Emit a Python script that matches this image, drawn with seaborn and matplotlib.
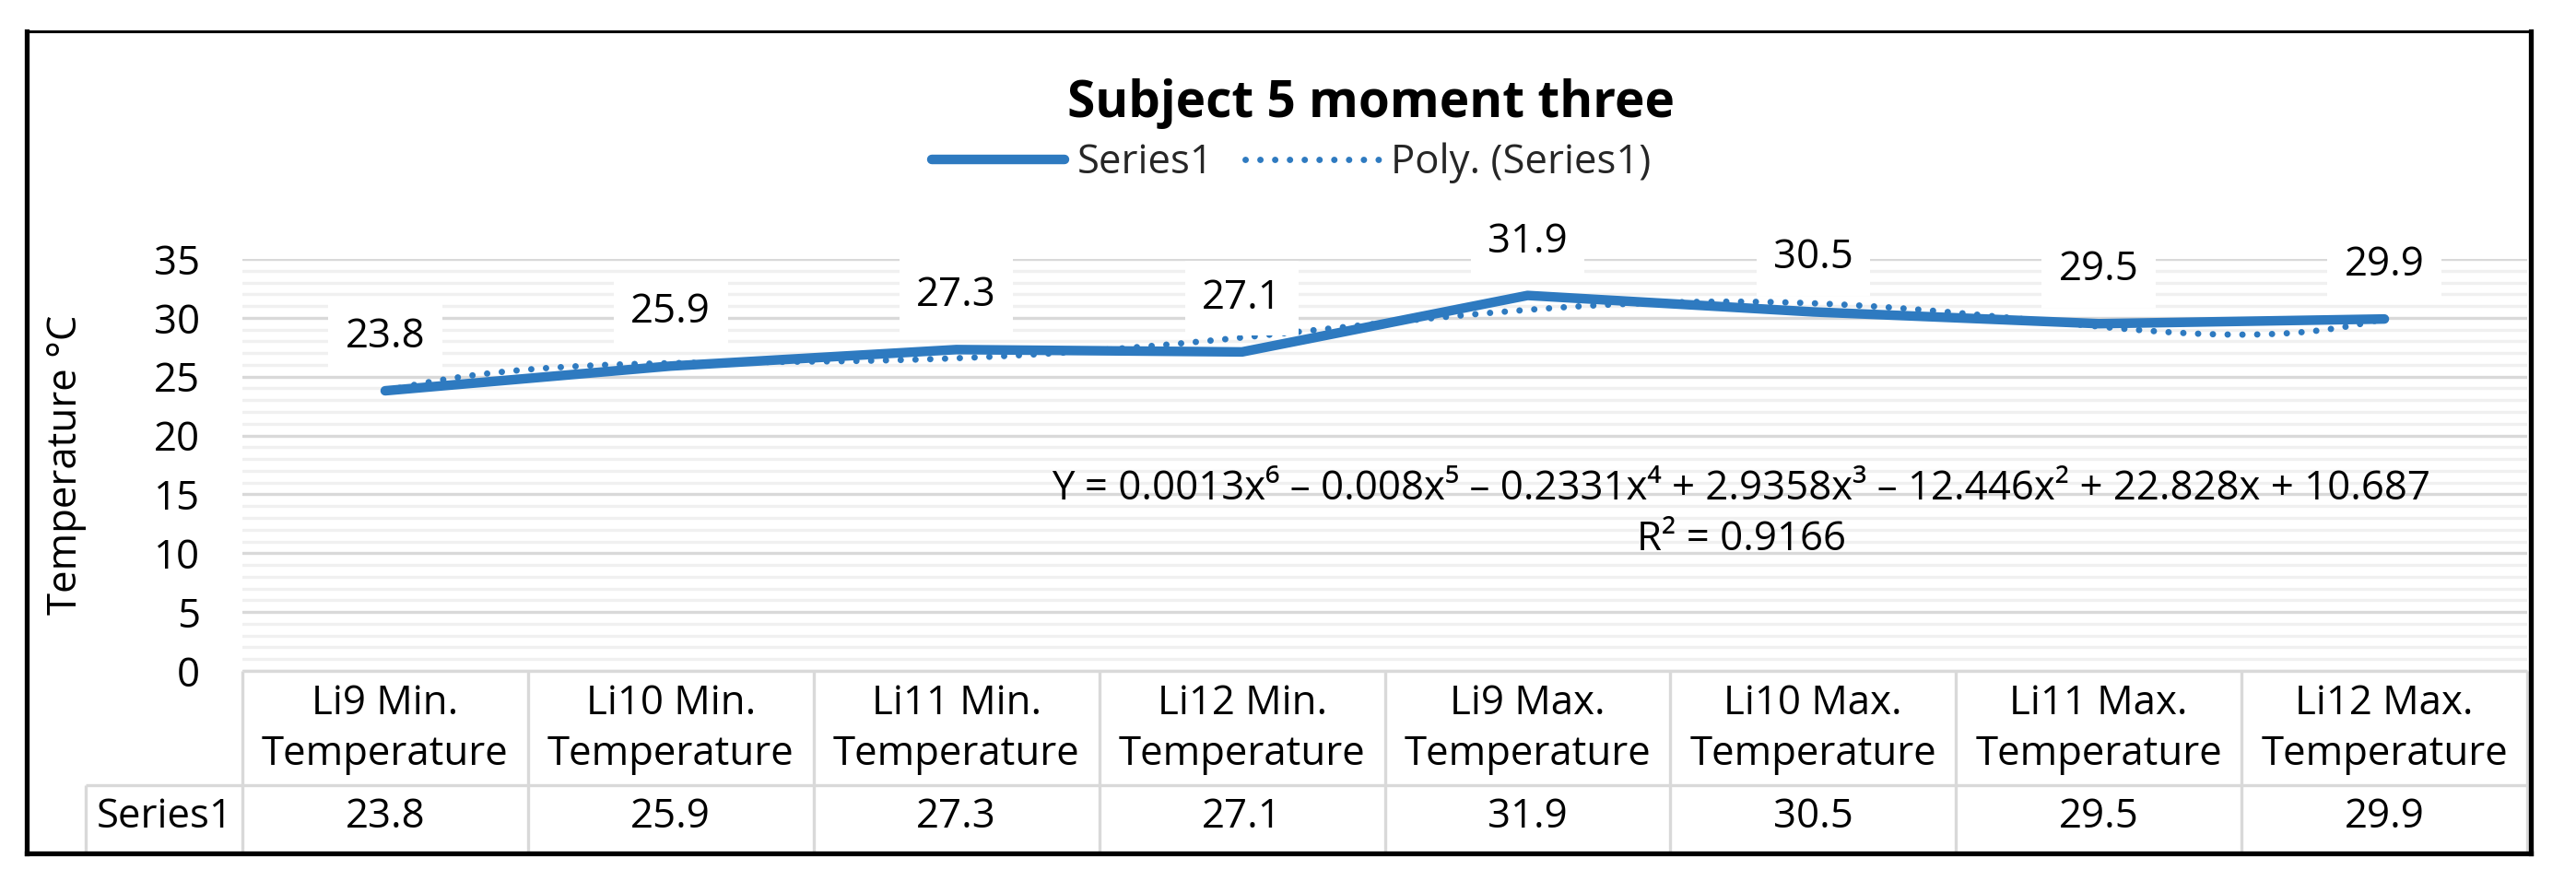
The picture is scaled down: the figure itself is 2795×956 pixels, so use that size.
import numpy as np
import pandas as pd
import matplotlib
matplotlib.use("Agg")
import matplotlib.pyplot as plt
import matplotlib.transforms as mtransforms
from matplotlib.lines import Line2D
from matplotlib.ticker import MultipleLocator
import seaborn as sns

# ---------------- data ----------------
categories = ["Li9 Min.\nTemperature", "Li10 Min.\nTemperature", "Li11 Min.\nTemperature",
              "Li12 Min.\nTemperature", "Li9 Max.\nTemperature", "Li10 Max.\nTemperature",
              "Li11 Max.\nTemperature", "Li12 Max.\nTemperature"]
series1 = [23.8, 25.9, 27.3, 27.1, 31.9, 30.5, 29.5, 29.9]
series_name = "Series1"
trend_name = "Poly. (Series1)"
title = "Subject 5 moment three"
ylabel = "Temperature °C"
equation = ("Y = 0.0013x⁶ – 0.008x⁵ – 0.2331x⁴ + 2.9358x³ – 12.446x² + 22.828x + 10.687\n"
            "R² = 0.9166")

# ---------------- style ----------------
sns.set_theme(style="white")
FONT = ["Open Sans", "DejaVu Sans"]
plt.rcParams["font.family"] = FONT
FS = 31.5
BLUE = "#2E7AC0"
GRID_MAJOR = "#D9D9D9"
GRID_MINOR = "#F0F0F0"
DOTS = (0, (0.01, 2.3))

W, H = 2795, 956
fig = plt.figure(figsize=(W / 100, H / 100), dpi=100)
fig.patch.set_facecolor("white")

L, R, T, B = 263, 2742, 281, 728
ax = fig.add_axes([L / W, 1 - B / H, (R - L) / W, (B - T) / H])

x = np.arange(len(series1))
df = pd.DataFrame({"pos": x, "value": series1})

sns.lineplot(data=df, x="pos", y="value", ax=ax, color=BLUE, linewidth=7.5,
             solid_capstyle="round", solid_joinstyle="round", zorder=3, label=series_name)

# polynomial (order 6) trendline, fit as Excel does (x = 1..n)
coef = np.polyfit(x + 1, series1, 6)
xf = np.linspace(1, len(series1), 400)
tr = pd.DataFrame({"pos": xf - 1, "value": np.polyval(coef, xf)})
sns.lineplot(data=tr, x="pos", y="value", ax=ax, color=BLUE, linewidth=5,
             linestyle=DOTS, dash_capstyle="round", zorder=4, label=trend_name)

ax.set_xlim(-0.5, len(series1) - 0.5)
ax.set_ylim(0, 35)
ax.yaxis.set_major_locator(MultipleLocator(5))
ax.yaxis.set_minor_locator(MultipleLocator(1))
ax.grid(which="major", axis="y", color=GRID_MAJOR, linewidth=2.4, zorder=0)
ax.grid(which="minor", axis="y", color=GRID_MINOR, linewidth=2.4, zorder=0)
ax.grid(False, axis="x")
ax.set_axisbelow(True)
for s in ax.spines.values():
    s.set_visible(False)
ax.set_xticks([])
ax.set_xlabel("")
ax.tick_params(axis="y", which="both", length=0, pad=33, labelsize=FS, labelcolor="black")
ax.set_ylabel(ylabel, fontsize=FS, color="black")
ax.yaxis.set_label_coords(-0.068, 0.5)
ax.get_legend().remove()

# data labels
for xi, v in zip(x, series1):
    ax.annotate(f"{v}", (xi, v), xytext=(0, 42), textcoords="offset points",
                ha="center", va="center", fontsize=FS, color="black", zorder=5,
                bbox=dict(boxstyle="square,pad=0.42", fc="white", ec="none"))

# trendline equation
ax.text(1889 / W, 1 - 558 / H, equation, transform=fig.transFigure, ha="center", va="center",
        fontsize=FS, color="black", linespacing=1.3, zorder=5, family=FONT,
        multialignment="center")

# title and legend
fig.text(1487 / W, 1 - 112 / H, title, ha="center", va="center", fontsize=39.5,
         fontweight="bold", color="black")
handles = [Line2D([], [], color=BLUE, lw=7.5, solid_capstyle="round"),
           Line2D([], [], color=BLUE, lw=5, linestyle=DOTS, dash_capstyle="round")]
fig.legend(handles, [series_name, trend_name], loc="center", bbox_to_anchor=(1401 / W, 1 - 177 / H),
           ncol=2, frameon=False, fontsize=FS, handlelength=3.3, handletextpad=0.3,
           columnspacing=0.8)

# ---------------- data table ----------------
def fy(py):
    return 1 - py / H

blend = mtransforms.blended_transform_factory(ax.transData, fig.transFigure)
row1_top, row2_top, tbl_bot = 728, 852, 924
lbl_left = 93
lc = dict(color=GRID_MAJOR, lw=2.4, solid_capstyle="butt")
fig.add_artist(Line2D([L / W, R / W], [fy(row1_top)] * 2, transform=fig.transFigure, **lc))
fig.add_artist(Line2D([lbl_left / W, R / W], [fy(row2_top)] * 2, transform=fig.transFigure, **lc))
for i in range(len(categories) + 1):
    fig.add_artist(Line2D([i - 0.5, i - 0.5], [fy(row1_top), fy(tbl_bot)], transform=blend, **lc))
fig.add_artist(Line2D([lbl_left / W] * 2, [fy(row2_top), fy(tbl_bot)], transform=fig.transFigure, **lc))

for i, (c, v) in enumerate(zip(categories, series1)):
    fig.text(i, fy(791), c, transform=blend, ha="center", va="center", fontsize=FS,
             linespacing=1.3, color="black")
    fig.text(i, fy(887), f"{v}", transform=blend, ha="center", va="center", fontsize=FS,
             color="black")
fig.text(105 / W, fy(887), series_name, ha="left", va="center", fontsize=FS, color="black")

# outer frame (left/right/bottom heavier than top, as in the reference)
fl, ft, fr, fb = 28.5, 34, 2745.5, 925.5
fig.add_artist(Line2D([fl / W, fr / W], [fy(ft)] * 2, transform=fig.transFigure,
                      color="black", lw=2.2, zorder=10, solid_capstyle="projecting"))
for xs, ys in ([[fl, fl], [ft, fb]], [[fr, fr], [ft, fb]], [[fl, fr], [fb, fb]]):
    fig.add_artist(Line2D([v / W for v in xs], [fy(v) for v in ys], transform=fig.transFigure,
                          color="black", lw=3.8, zorder=10, solid_capstyle="projecting"))

fig.savefig("out.png", dpi=100, facecolor="white")
